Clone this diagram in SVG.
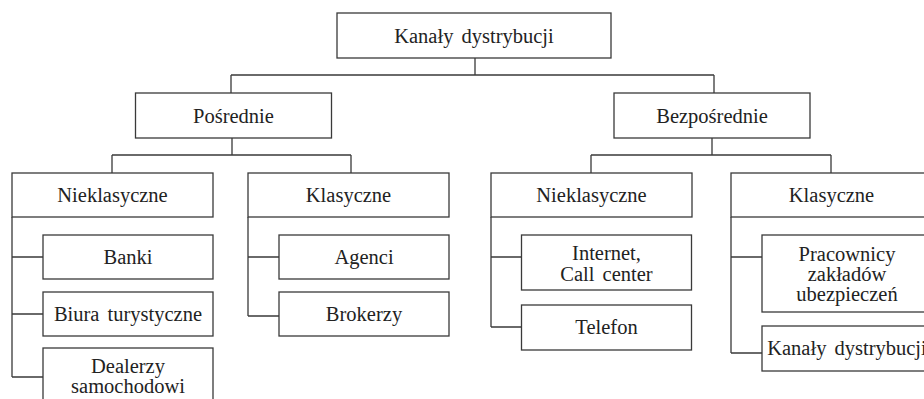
<svg xmlns="http://www.w3.org/2000/svg" width="924" height="399" viewBox="0 0 924 399">
<style>
.box{fill:#fff;stroke:#3a3a3a;stroke-width:1.3}
.ln{fill:none;stroke:#3a3a3a;stroke-width:1.3}
text{font-family:"Liberation Serif","Times New Roman",serif;font-size:20.5px;fill:#222;text-anchor:middle;word-spacing:3px}
</style>
<rect width="924" height="399" fill="#fff"/>
<g id="connectors" class="ln">
<path d="M475 58V75M231 75H714M231 75V93M714 75V93"/>
<path d="M232 138V155M112 155H351M112 155V173M351 155V173"/>
<path d="M712 138V155M591 155H831M591 155V173M831 155V173"/>
<path d="M12 217V377M12 257H43M12 314H43M12 377H43"/>
<path d="M248 217V316M248 257H279M248 316H279"/>
<path d="M491 217V327M491 257H521.5M491 327H521.5"/>
<path d="M731 217V353M731 257H762M731 353H762"/>
</g>
<g id="root"><rect class="box" x="337" y="13" width="274" height="45"/><text x="474" y="43">Kanały dystrybucji</text></g>
<g id="posrednie"><rect class="box" x="135.5" y="93" width="196" height="45"/><text x="233.5" y="123">Pośrednie</text></g>
<g id="bezposrednie"><rect class="box" x="614" y="93" width="196" height="45"/><text x="712" y="123">Bezpośrednie</text></g>
<g id="nieklasyczne-l"><rect class="box" x="12" y="173" width="201" height="44"/><text x="112.5" y="202">Nieklasyczne</text></g>
<g id="klasyczne-l"><rect class="box" x="248" y="173" width="201" height="44"/><text x="348.5" y="202">Klasyczne</text></g>
<g id="nieklasyczne-r"><rect class="box" x="491" y="173" width="201" height="44"/><text x="591.5" y="202">Nieklasyczne</text></g>
<g id="klasyczne-r"><rect class="box" x="731" y="173" width="201" height="44"/><text x="831.5" y="202">Klasyczne</text></g>
<g id="banki"><rect class="box" x="43" y="235" width="170" height="44"/><text x="128" y="264">Banki</text></g>
<g id="biura"><rect class="box" x="43" y="292" width="170" height="44"/><text x="128" y="321">Biura turystyczne</text></g>
<g id="dealerzy"><rect class="box" x="43" y="348" width="170" height="60"/><text x="128" y="373">Dealerzy</text><text x="128" y="393">samochodowi</text></g>
<g id="agenci"><rect class="box" x="279" y="235" width="170" height="44"/><text x="364" y="264">Agenci</text></g>
<g id="brokerzy"><rect class="box" x="279" y="292" width="170" height="44"/><text x="364" y="321">Brokerzy</text></g>
<g id="internet"><rect class="box" x="521.5" y="235" width="170" height="55"/><text x="606.5" y="260">Internet,</text><text x="606.5" y="281">Call center</text></g>
<g id="telefon"><rect class="box" x="521.5" y="305" width="170" height="45"/><text x="606.5" y="334">Telefon</text></g>
<g id="pracownicy"><rect class="box" x="762" y="235" width="170" height="77"/><text x="847" y="261">Pracownicy</text><text x="847" y="281">zakładów</text><text x="847" y="301">ubezpieczeń</text></g>
<g id="kanaly-2"><rect class="box" x="762" y="326" width="170" height="45"/><text x="847" y="355">Kanały dystrybucji</text></g>
</svg>
